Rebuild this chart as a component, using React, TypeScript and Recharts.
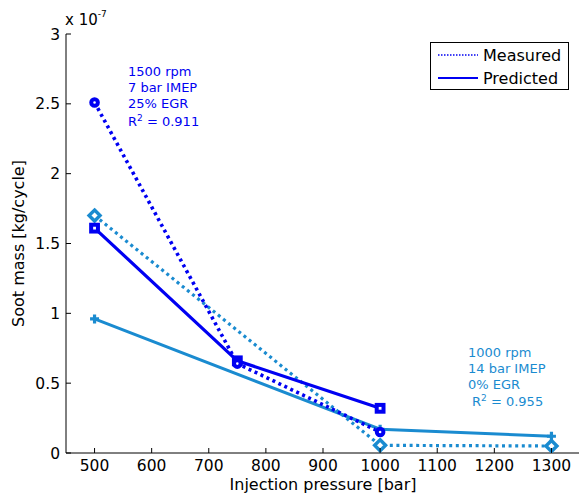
import React from "react";
import { LineChart, Line, XAxis, YAxis } from "recharts";

// soot mass values are in units of 1e-7 kg/cycle
const pressures1500 = [500, 750, 1000];
const measured1500 = [2.51, 0.64, 0.15];
const predicted1500 = [1.61, 0.66, 0.32];

const pressures1000 = [500, 1000, 1300];
const measured1000 = [1.7, 0.055, 0.05];
const predicted1000 = [0.96, 0.17, 0.12];

const xTicks = [500, 600, 700, 800, 900, 1000, 1100, 1200, 1300];
const yTicks = [0, 0.5, 1, 1.5, 2, 2.5, 3];

const BLUE = "#0000f2";
const LIGHT = "#1a8bd0";
const FONT = "'DejaVu Sans', sans-serif";

const toPoints = (xs: number[], ys: number[]) =>
  xs.map((p, i) => ({ p, v: ys[i] }));

const measured1500Data = toPoints(pressures1500, measured1500);
const predicted1500Data = toPoints(pressures1500, predicted1500);
const measured1000Data = toPoints(pressures1000, measured1000);
const predicted1000Data = toPoints(pressures1000, predicted1000);

const BottomTick = (props: any) => {
  const { x, y, payload } = props;
  return (
    <g>
      <line x1={x} y1={y} x2={x} y2={y - 5} stroke="#000" />
      <text x={x} y={y + 18} textAnchor="middle" fontSize={15.5} fontFamily={FONT} fill="#000">
        {payload.value}
      </text>
    </g>
  );
};

const LeftTick = (props: any) => {
  const { x, y, payload } = props;
  return (
    <g>
      <line x1={x} y1={y} x2={x + 5} y2={y} stroke="#000" />
      <text x={x - 6} y={y} dy="0.36em" textAnchor="end" fontSize={15.5} fontFamily={FONT} fill="#000">
        {payload.value}
      </text>
    </g>
  );
};

const TopTick = (props: any) => (
  <line x1={props.x} y1={props.y} x2={props.x} y2={props.y + 5} stroke="#000" />
);

const RightTick = (props: any) => (
  <line x1={props.x} y1={props.y} x2={props.x - 5} y2={props.y} stroke="#000" />
);

const CircleDot = (props: any) => (
  <circle key={props.index} cx={props.cx} cy={props.cy} r={3.3} fill="#fff" stroke={BLUE} strokeWidth={4} />
);

const SquareDot = (props: any) => (
  <rect key={props.index} x={props.cx - 3.4} y={props.cy - 3.4} width={6.8} height={6.8} fill="#fff" stroke={BLUE} strokeWidth={4} />
);

const DiamondDot = (props: any) => {
  const { cx, cy } = props;
  return (
    <polygon
      key={props.index}
      points={`${cx},${cy - 5.5} ${cx + 5.5},${cy} ${cx},${cy + 5.5} ${cx - 5.5},${cy}`}
      fill="#fff"
      stroke={LIGHT}
      strokeWidth={3.4}
    />
  );
};

const PlusDot = (props: any) => {
  const { cx, cy } = props;
  return (
    <path key={props.index} d={`M${cx - 4.5},${cy}H${cx + 4.5}M${cx},${cy - 4.5}V${cy + 4.5}`} stroke={LIGHT} strokeWidth={3.2} fill="none" />
  );
};

const noteStyle: React.CSSProperties = {
  position: "absolute",
  fontFamily: FONT,
  fontSize: 13,
  lineHeight: "16px",
  whiteSpace: "nowrap",
};

export default function App() {
  return (
    <div style={{ position: "absolute", left: 0, top: 0, width: 579, height: 497, overflow: "hidden", background: "#fff" }}>
      <div style={{ position: "relative", width: 590, height: 497 }}>
        <LineChart width={590} height={497} margin={{ top: 34, right: 10, bottom: 0, left: 0 }}>
          <XAxis
            dataKey="p"
            type="number"
            domain={[450, 1350]}
            ticks={xTicks}
            allowDataOverflow
            height={44}
            tickSize={0}
            tickMargin={0}
            tickLine={false}
            axisLine={{ stroke: "#000" }}
            tick={<BottomTick />}
            label={{ value: "Injection pressure [bar]", position: "insideBottom", offset: 7, style: { fontSize: 16, fontFamily: FONT, fill: "#000" } }}
          />
          <XAxis
            xAxisId="top"
            orientation="top"
            dataKey="p"
            type="number"
            domain={[450, 1350]}
            ticks={xTicks}
            allowDataOverflow
            height={0}
            tickSize={0}
            tickMargin={0}
            tickLine={false}
            axisLine={{ stroke: "#000" }}
            tick={<TopTick />}
          />
          <YAxis
            type="number"
            domain={[0, 3]}
            ticks={yTicks}
            allowDataOverflow
            width={66}
            tickSize={0}
            tickMargin={0}
            tickLine={false}
            axisLine={{ stroke: "#000" }}
            tick={<LeftTick />}
            label={{ value: "Soot mass [kg/cycle]", angle: -90, position: "insideLeft", offset: 18, style: { textAnchor: "middle", fontSize: 16, fontFamily: FONT, fill: "#000" } }}
          />
          <YAxis
            yAxisId="right"
            orientation="right"
            type="number"
            domain={[0, 3]}
            ticks={yTicks}
            allowDataOverflow
            width={0}
            tickSize={0}
            tickMargin={0}
            tickLine={false}
            axisLine={{ stroke: "#000" }}
            tick={<RightTick />}
          />
          <Line
            data={predicted1000Data}
            dataKey="v"
            stroke={LIGHT}
            strokeWidth={3}
            dot={PlusDot}
            isAnimationActive={false}
          />
          <Line
            data={measured1000Data}
            dataKey="v"
            stroke={LIGHT}
            strokeWidth={3.2}
            strokeDasharray="3 3.6"
            dot={DiamondDot}
            isAnimationActive={false}
          />
          <Line
            data={predicted1500Data}
            dataKey="v"
            stroke={BLUE}
            strokeWidth={3.2}
            dot={SquareDot}
            isAnimationActive={false}
          />
          <Line
            data={measured1500Data}
            dataKey="v"
            stroke={BLUE}
            strokeWidth={3.6}
            strokeDasharray="3 3.6"
            dot={CircleDot}
            isAnimationActive={false}
          />
        </LineChart>

        <div style={{ position: "absolute", left: 65, top: 10, fontFamily: FONT, fontSize: 15, lineHeight: "20px", whiteSpace: "nowrap" }}>
          x 10<sup style={{ fontSize: 9, lineHeight: 0, position: "relative", top: -2 }}>-7</sup>
        </div>

        <div style={{ ...noteStyle, left: 128, top: 63.5, color: BLUE }}>
          <div>1500 rpm</div>
          <div>7 bar IMEP</div>
          <div>25% EGR</div>
          <div style={{ marginTop: 2 }}>
            R<sup style={{ fontSize: 9, lineHeight: 0 }}>2</sup> = 0.911
          </div>
        </div>

        <div style={{ ...noteStyle, left: 468, top: 344.5, color: LIGHT }}>
          <div>1000 rpm</div>
          <div>14 bar IMEP</div>
          <div>0% EGR</div>
          <div style={{ marginTop: 1, paddingLeft: 4 }}>
            R<sup style={{ fontSize: 9, lineHeight: 0 }}>2</sup> = 0.955
          </div>
        </div>

        <div
          style={{
            position: "absolute",
            left: 430,
            top: 42,
            width: 137,
            height: 46,
            border: "1px solid #000",
            background: "#fff",
            fontFamily: FONT,
            fontSize: 16,
          }}
        >
          <div style={{ position: "absolute", left: 7, top: 2, display: "flex", alignItems: "center", height: 20 }}>
            <svg width={40} height={4}>
              <line x1={0} y1={2} x2={40} y2={2} stroke={BLUE} strokeWidth={1.5} strokeDasharray="1.5 1.5" />
            </svg>
            <span style={{ marginLeft: 5 }}>Measured</span>
          </div>
          <div style={{ position: "absolute", left: 7, top: 25, display: "flex", alignItems: "center", height: 20 }}>
            <svg width={40} height={4}>
              <line x1={0} y1={2} x2={40} y2={2} stroke={BLUE} strokeWidth={2} />
            </svg>
            <span style={{ marginLeft: 5 }}>Predicted</span>
          </div>
        </div>
      </div>
    </div>
  );
}
